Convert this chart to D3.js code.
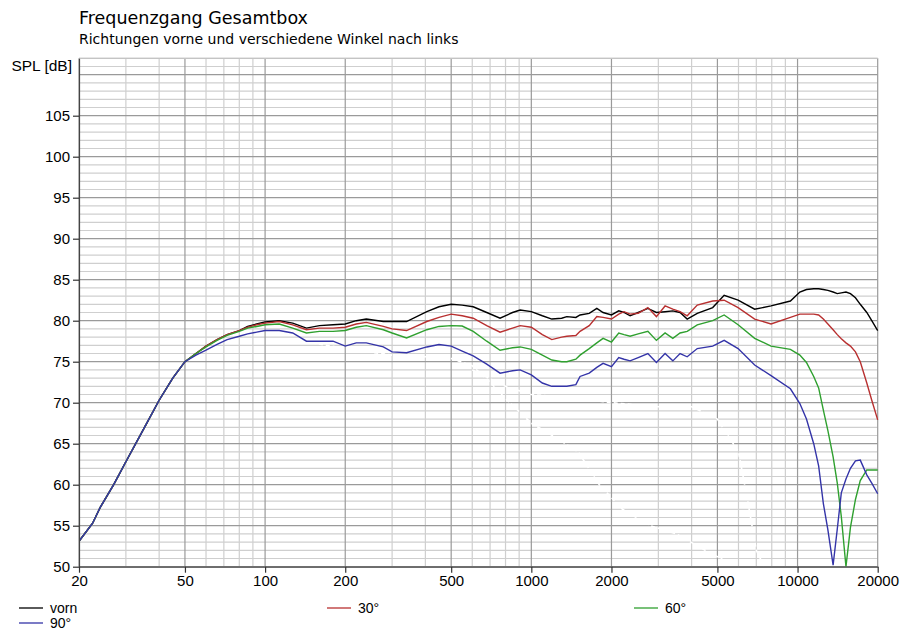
<!DOCTYPE html>
<html>
<head>
<meta charset="utf-8">
<script src="https://cdn.jsdelivr.net/npm/d3@7"></script>
<style>
  body { margin: 0; background: #fff; }
  svg { display: block; }
</style>
</head>
<body>
<div class="chart"></div>
<script>
// frequencies (Hz) shared by all four measurements
const freq = [20, 22.5, 24, 27, 30, 35, 40, 45, 50, 55,
  60, 66, 72, 80, 86, 93, 100, 113, 127, 143,
  160, 180, 200, 220, 240, 278, 300, 340, 405, 450,
  500, 550, 605, 680, 763, 850, 908, 1000, 1100, 1194,
  1300, 1359, 1470, 1524, 1650, 1762, 1860, 2000, 2130, 2230,
  2350, 2520, 2740, 2950, 3180, 3400, 3620, 3850, 4200, 4800,
  5300, 5980, 6900, 7950, 9400, 10200, 10800, 11500, 12000, 12500,
  13000, 13600, 14100, 14600, 15200, 15800, 16500, 17200, 18200, 19000,
  20000];

const vorn = [53.1, 55.3, 57.2, 60.0, 62.8, 66.8, 70.3, 73.0, 75.0, 76.0,
  76.9, 77.7, 78.3, 78.8, 79.3, 79.6, 79.85, 80.0, 79.7, 79.1,
  79.4, 79.5, 79.6, 80.0, 80.2, 79.9, 79.9, 79.9, 81.1, 81.7,
  82.0, 81.9, 81.7, 81.0, 80.3, 81.0, 81.3, 81.1, 80.6, 80.2,
  80.3, 80.5, 80.4, 80.7, 80.9, 81.5, 81.0, 80.7, 81.2, 81.0,
  80.6, 81.0, 81.5, 81.0, 81.1, 81.2, 81.0, 80.2, 80.9, 81.6,
  83.1, 82.5, 81.4, 81.8, 82.4, 83.5, 83.8, 83.9, 83.9, 83.8,
  83.7, 83.5, 83.3, 83.4, 83.5, 83.3, 82.8, 82.0, 81.0, 80.0,
  78.8];

const deg30 = [53.1, 55.3, 57.2, 60.0, 62.8, 66.8, 70.3, 73.0, 75.0, 76.0,
  76.9, 77.7, 78.3, 78.8, 79.2, 79.5, 79.7, 79.9, 79.5, 78.9,
  79.1, 79.1, 79.2, 79.6, 79.8, 79.3, 79.0, 78.8, 79.9, 80.4,
  80.8, 80.6, 80.3, 79.4, 78.6, 79.1, 79.4, 79.2, 78.3, 77.7,
  78.0, 78.1, 78.2, 78.7, 79.4, 80.5, 80.4, 80.2, 80.8, 81.1,
  80.8, 80.9, 81.6, 80.5, 81.8, 81.4, 81.1, 80.6, 81.9, 82.4,
  82.5, 81.6, 80.2, 79.6, 80.4, 80.8, 80.8, 80.8, 80.7, 80.2,
  79.6, 78.9, 78.3, 77.8, 77.3, 76.9, 76.2, 75.0, 72.4, 70.3,
  67.9];

const deg60 = [53.1, 55.3, 57.2, 60.0, 62.8, 66.8, 70.3, 73.0, 75.0, 76.0,
  76.8, 77.6, 78.2, 78.7, 79.1, 79.3, 79.5, 79.6, 79.1, 78.5,
  78.7, 78.7, 78.8, 79.2, 79.4, 78.9, 78.5, 77.9, 78.9, 79.3,
  79.4, 79.35, 78.7, 77.5, 76.4, 76.7, 76.8, 76.5, 75.8, 75.2,
  75.0, 75.0, 75.3, 75.8, 76.6, 77.3, 77.85, 77.4, 78.5, 78.3,
  78.1, 78.4, 78.7, 77.6, 78.5, 77.85, 78.5, 78.7, 79.5, 80.0,
  80.7, 79.5, 77.85, 76.9, 76.5, 75.8, 74.9, 73.2, 71.8, 69.1,
  66.6, 63.4, 60.2, 56.1, 50.0, 54.8, 58.2, 60.5, 61.8, 61.8,
  61.8];

const deg90 = [53.1, 55.3, 57.2, 60.0, 62.8, 66.8, 70.3, 73.0, 75.0, 75.8,
  76.4, 77.1, 77.7, 78.1, 78.4, 78.6, 78.8, 78.8, 78.5, 77.5,
  77.5, 77.5, 76.9, 77.3, 77.3, 76.8, 76.2, 76.1, 76.8, 77.1,
  76.9, 76.3, 75.7, 74.7, 73.6, 73.9, 74.0, 73.4, 72.4, 72.0,
  72.0, 72.0, 72.2, 73.2, 73.6, 74.3, 74.8, 74.4, 75.5, 75.3,
  75.1, 75.5, 76.0, 74.9, 76.0, 75.1, 76.0, 75.6, 76.6, 76.9,
  77.6, 76.6, 74.6, 73.3, 71.7, 69.9, 68.0, 65.0, 62.3, 57.7,
  54.5, 50.2, 54.6, 59.0, 60.7, 62.0, 62.9, 63.0, 61.2, 60.2,
  58.9];

// faint remains of erased curves (only visible where they cut the grid)
const ghostFreq = [150, 200, 300, 400, 500, 600, 700, 800, 1000, 1200, 1500, 1800, 2200, 2800, 3500, 4500, 5500];
const ghostDb = [77.3, 76.6, 75.8, 75.6, 75.4, 74.5, 72.5, 70.5, 67.5, 66.0, 64.0, 60.0, 57.0, 55.0, 54.0, 52.0, 50.5];
const ghost2Freq = [600, 800, 1000, 1500, 2000, 3000, 4000, 5000, 6000, 6500, 7000, 7500];
const ghost2Db = [74.0, 72.0, 71.0, 70.5, 70.0, 69.5, 69.5, 68.0, 64.0, 58.0, 52.0, 50.0];

const seriesNames = ["vorn", "30°", "60°", "90°"];
const seriesColors = ["#000000", "#b83030", "#2fa02f", "#3434a8"];

const xTicks = [20, 50, 100, 200, 500, 1000, 2000, 5000, 10000, 20000];
const yTicks = [50, 55, 60, 65, 70, 75, 80, 85, 90, 95, 100, 105];

const width = 900, height = 632;
const plot = {left: 79, right: 877.7, top: 58.3, bottom: 566.7};

const svg = d3.select(".chart")
  .append("svg")
  .attr("width", width)
  .attr("height", height);

const x = d3.scaleLog().domain([20, 20000]).range([plot.left, plot.right]);
const y = d3.scaleLinear().domain([50, 112]).range([plot.bottom, plot.top]);

// grid, minor first then the labelled lines
let minorF = [];
[10, 100, 1000, 10000].forEach(function(d) {
  for (let m = 1; m <= 9; m++) {
    let f = d * m;
    if (f >= 20 && f <= 20000 && xTicks.indexOf(f) < 0) minorF.push(f);
  }
});
let minorDb = d3.range(51, 113).filter(v => v % 5 != 0);
let majorDb = d3.range(50, 113, 5).concat([112]);

const grid = svg.append("g");
grid.selectAll(".vminor").data(minorF).enter().append("line")
  .attr("x1", d => x(d)).attr("x2", d => x(d))
  .attr("y1", plot.top).attr("y2", plot.bottom)
  .attr("stroke", "#cfcfcf").attr("stroke-width", 1.2);
grid.selectAll(".hminor").data(minorDb).enter().append("line")
  .attr("x1", plot.left).attr("x2", plot.right)
  .attr("y1", d => y(d)).attr("y2", d => y(d))
  .attr("stroke", "#cfcfcf").attr("stroke-width", 1.2);
grid.selectAll(".vmajor").data(xTicks).enter().append("line")
  .attr("x1", d => x(d)).attr("x2", d => x(d))
  .attr("y1", plot.top).attr("y2", plot.bottom)
  .attr("stroke", "#9a9a9a").attr("stroke-width", 1.2);
grid.selectAll(".hmajor").data(majorDb).enter().append("line")
  .attr("x1", plot.left).attr("x2", plot.right)
  .attr("y1", d => y(d)).attr("y2", d => y(d))
  .attr("stroke", d => d == 112 ? "#c4c4c4" : "#9a9a9a").attr("stroke-width", 1.2);

const line = d3.line()
  .x(d => x(d[0]))
  .y(d => y(d[1]));

svg.append("defs").append("clipPath").attr("id", "plotclip")
  .append("rect")
  .attr("x", plot.left).attr("y", plot.top - 1)
  .attr("width", plot.right - plot.left + 1).attr("height", plot.bottom - plot.top + 1);

const curves = svg.append("g").attr("clip-path", "url(#plotclip)");

[[ghostFreq, ghostDb], [ghost2Freq, ghost2Db]].forEach(function(g) {
  curves.append("path")
    .datum(d3.zip(g[0], g[1]))
    .attr("d", line)
    .attr("fill", "none")
    .attr("stroke", "#ffffff")
    .attr("stroke-width", 1.6)
    .attr("stroke-dasharray", "4,3");
});

// axes
const fontTicks = "'Liberation Sans', Arial, sans-serif";

const yAxis = svg.append("g")
  .attr("transform", `translate(${plot.left},0)`)
  .call(d3.axisLeft(y).tickValues(yTicks).tickSize(6).tickPadding(3).tickSizeOuter(0));
const xAxis = svg.append("g")
  .attr("transform", `translate(0,${plot.bottom})`)
  .call(d3.axisBottom(x).tickValues(xTicks).tickFormat(d3.format("d")).tickSize(6).tickPadding(3).tickSizeOuter(0));

[yAxis, xAxis].forEach(function(a) {
  a.select(".domain").attr("stroke", "#444").attr("stroke-width", 1.2);
  a.selectAll(".tick line").attr("stroke", "#333").attr("stroke-width", 1.2);
  a.selectAll(".tick text")
    .attr("fill", "#000")
    .style("font-family", fontTicks)
    .style("font-size", "15px");
});

const allSeries = [vorn, deg30, deg60, deg90];
allSeries.forEach(function(vals, i) {
  curves.append("path")
    .datum(d3.zip(freq, vals))
    .attr("d", line)
    .attr("fill", "none")
    .attr("stroke", seriesColors[i])
    .attr("stroke-width", 1.4);
});

// titles
svg.append("text")
  .attr("x", plot.left).attr("y", 24)
  .style("font-family", "'DejaVu Sans', sans-serif")
  .style("font-size", "17.5px")
  .text("Frequenzgang Gesamtbox");
svg.append("text")
  .attr("x", plot.left).attr("y", 44)
  .style("font-family", "'DejaVu Sans', sans-serif")
  .style("font-size", "14px")
  .text("Richtungen vorne und verschiedene Winkel nach links");
svg.append("text")
  .attr("x", 72).attr("y", 71)
  .attr("text-anchor", "end")
  .style("font-family", fontTicks)
  .style("font-size", "15.5px")
  .text("SPL [dB]");

// legend: three per row
const legendX = [19, 327, 634];
const legend = svg.selectAll(".legend").data(seriesNames).enter().append("g")
  .attr("transform", (d, i) => `translate(${legendX[i % 3]},${608 + Math.floor(i / 3) * 15})`);
legend.append("line")
  .attr("x1", 0).attr("x2", 24).attr("y1", 0).attr("y2", 0)
  .attr("stroke", (d, i) => seriesColors[i]).attr("stroke-width", 1.3);
legend.append("text")
  .attr("x", 31).attr("y", 5)
  .style("font-family", fontTicks)
  .style("font-size", "14px")
  .text(d => d);
</script>
</body>
</html>
